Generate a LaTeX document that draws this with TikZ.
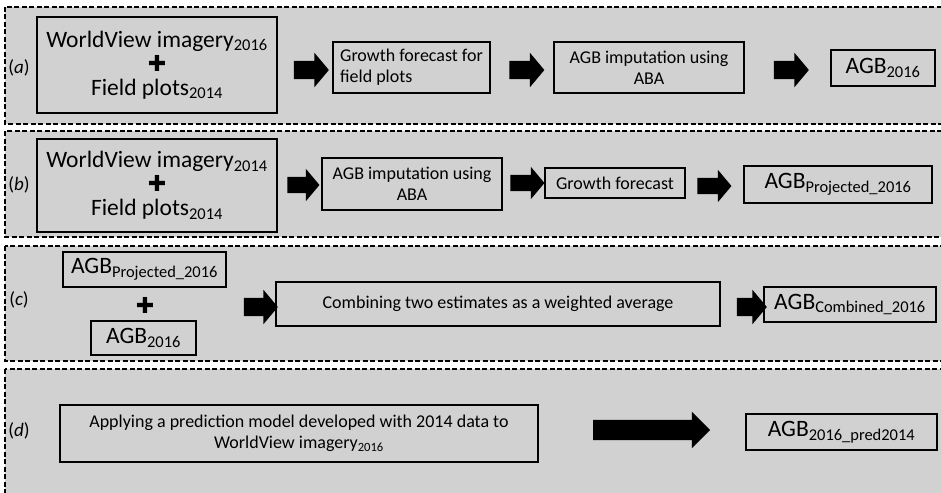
\documentclass[tikz,border=0pt]{standalone}
\usepackage{fontspec}
\setmainfont{Carlito}
\newfontfamily\symfont{DejaVu Sans}
\usetikzlibrary{shapes.arrows}
\definecolor{panelgray}{RGB}{209,209,209}
\newcommand{\bigtxt}{\fontsize{23.5}{27}\selectfont}
\newcommand{\smalltxt}{\fontsize{18}{21}\selectfont}
\newcommand{\lbltxt}{\fontsize{19}{21}\selectfont}
\newcommand{\plussign}{{\symfont\fontsize{22}{26}\selectfont ✚}}
\begin{document}
\begin{tikzpicture}[x=1pt,y=-1pt,
  panel/.style={draw, dash pattern=on 5pt off 2.5pt, line width=1.2pt, fill=panelgray},
  box/.style={draw, line width=1.2pt, inner sep=0pt, align=center},
  barrow/.style={single arrow, fill=black, draw=none, inner sep=0pt,
     single arrow head extend=8pt, single arrow tip angle=100},
  lbl/.style={font=\lbltxt, inner sep=0pt}]
\useasboundingbox (0,0) rectangle (941,492);
\begin{scope}
\clip (0,0) rectangle (941,492);
% panels
\draw[panel] (5,7) rectangle (960,124);
\draw[panel] (5,131) rectangle (960,237);
\draw[panel] (5,246) rectangle (960,361);
\draw[panel] (5,369) rectangle (960,510);
\end{scope}
% labels
\node[lbl] (la) at (19,68) {(\textit{a})};
\node[lbl] (lb) at (19,185) {(\textit{b})};
\node[lbl] (lc) at (19,300) {(\textit{c})};
\node[lbl] (ld) at (19,431) {(\textit{d})};
% row a
\node[box, minimum width=240pt, minimum height=96pt, font=\bigtxt] (a1) at (157,65)
  {WorldView imagery\textsubscript{2016}\\[-3pt]\plussign\\[-3pt]Field plots\textsubscript{2014}};
\node[barrow, minimum height=35pt] (aa1) at (307.5,70) {\rule{0pt}{18pt}};
\node[box, minimum width=157pt, minimum height=51pt, font=\smalltxt, align=left] (a2) at (411.5,67.5)
  {Growth forecast for\\field plots};
\node[barrow, minimum height=35pt] (aa2) at (523,70) {\rule{0pt}{18pt}};
\node[box, minimum width=190pt, minimum height=51pt, font=\smalltxt] (a3) at (649,67.5)
  {AGB imputation using\\ABA};
\node[barrow, minimum height=35pt] (aa3) at (787.5,70) {\rule{0pt}{18pt}};
\node[box, minimum width=104pt, minimum height=36pt, font=\bigtxt] (a4) at (883,68)
  {AGB\textsubscript{2016}};
% row b
\node[box, minimum width=240pt, minimum height=93pt, font=\bigtxt] (b1) at (157,185.5)
  {WorldView imagery\textsubscript{2014}\\[-3pt]\plussign\\[-3pt]Field plots\textsubscript{2014}};
\node[barrow, minimum height=32pt] (ba1) at (300,185) {\rule{0pt}{16pt}};
\node[box, minimum width=180pt, minimum height=52pt, font=\smalltxt] (b2) at (412,184)
  {AGB imputation using\\ABA};
\node[barrow, minimum height=34pt] (ba2) at (524,183) {\rule{0pt}{16pt}};
\node[box, minimum width=140pt, minimum height=30pt, font=\smalltxt] (b3) at (615,183)
  {Growth forecast};
\node[barrow, minimum height=34pt] (ba3) at (711,186) {\rule{0pt}{16pt}};
\node[box, minimum width=188pt, minimum height=37pt, font=\bigtxt] (b4) at (838,184.5)
  {AGB\textsubscript{Projected\_2016}};
% row c
\node[box, minimum width=163pt, minimum height=35pt, font=\bigtxt] (c1) at (144.5,269.5)
  {AGB\textsubscript{Projected\_2016}};
\node[inner sep=0pt] (cplus) at (145,305) {\plussign};
\node[box, minimum width=105pt, minimum height=34pt, font=\bigtxt] (c2) at (143.5,338)
  {AGB\textsubscript{2016}};
\node[barrow, minimum height=34pt] (ca1) at (257,307) {\rule{0pt}{18pt}};
\node[box, minimum width=444pt, minimum height=44pt, font=\smalltxt] (c3) at (498,304)
  {Combining two estimates as a weighted average};
\node[barrow, minimum height=30pt] (ca2) at (748,307) {\rule{0pt}{18pt}};
\node[box, minimum width=172pt, minimum height=35pt, font=\bigtxt] (c4) at (850,304.5)
  {AGB\textsubscript{Combined\_2016}};
% row d
\node[box, minimum width=478pt, minimum height=57pt, font=\smalltxt] (d1) at (299,433.5)
  {Applying a prediction model developed with 2014 data to\\WorldView imagery\textsubscript{2016}};
\node[barrow, minimum height=117pt, single arrow head extend=8pt, single arrow tip angle=90] (da1) at (646.5,430) {\rule{0pt}{20pt}};
\node[box, minimum width=191pt, minimum height=36pt, font=\bigtxt] (d2) at (841.5,432)
  {AGB\textsubscript{2016\_pred2014}};
\end{tikzpicture}
\end{document}
